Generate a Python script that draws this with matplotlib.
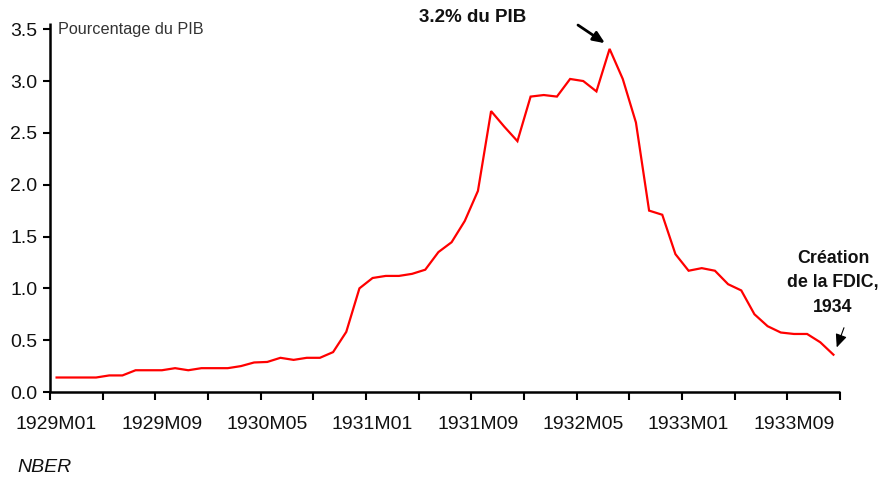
import matplotlib
matplotlib.use("Agg")
import matplotlib.pyplot as plt
import numpy as np
from matplotlib.ticker import FixedLocator

# monthly series, 1929M01 .. 1933M12 (% of GDP)
years = [1929, 1930, 1931, 1932, 1933]
months = [f"{y}M{m:02d}" for y in years for m in range(1, 13)]
deposits = [
    0.14, 0.14, 0.14, 0.14, 0.16, 0.16, 0.21, 0.21, 0.21, 0.23, 0.21, 0.23,
    0.23, 0.23, 0.25, 0.285, 0.29, 0.33, 0.31, 0.33, 0.33, 0.385, 0.58, 1.00,
    1.10, 1.12, 1.12, 1.14, 1.18, 1.35, 1.445, 1.65, 1.94, 2.71, 2.56, 2.42,
    2.85, 2.865, 2.85, 3.02, 3.00, 2.90, 3.31, 3.02, 2.60, 1.75, 1.71, 1.33,
    1.17, 1.195, 1.17, 1.04, 0.98, 0.75, 0.635, 0.574, 0.56, 0.56, 0.48, 0.36,
]
label_every = 8
yticks = [0.0, 0.5, 1.0, 1.5, 2.0, 2.5, 3.0, 3.5]

plt.rcParams["font.family"] = ["Liberation Sans", "DejaVu Sans"]

fig = plt.figure(figsize=(8.82, 4.79), dpi=100)
ax = fig.add_axes([0.0567, 0.1816, 0.8957, 0.7704])

x = np.arange(len(months))
ax.plot(x, deposits, color="#ff0000", lw=1.6, solid_joinstyle="miter")

ax.set_xlim(-0.5, len(months) - 0.5)
ax.set_ylim(0, 3.56)

ax.set_xticks(x[::label_every])
ax.set_xticklabels(months[::label_every], fontsize=14, color="#111111")
ax.xaxis.set_minor_locator(FixedLocator(np.arange(-0.5, len(months), 4)))
ax.tick_params(axis="x", which="major", length=0, pad=17)
ax.tick_params(axis="x", which="minor", length=6, width=1.5, direction="out")

ax.set_yticks(yticks)
ax.set_yticklabels([f"{v:.1f}" for v in yticks], fontsize=14, color="#111111")
ax.tick_params(axis="y", length=5, width=1.5, direction="out", pad=4)

for side in ["top", "right"]:
    ax.spines[side].set_visible(False)
for side in ["left", "bottom"]:
    ax.spines[side].set_linewidth(1.8)
    ax.spines[side].set_capstyle("butt")

ax.text(0.1, 3.5, "Pourcentage du PIB", fontsize=11.7, color="#333333",
        va="center", ha="left")

# peak annotation
peak = int(np.argmax(deposits))
ax.annotate("", xy=(peak - 0.35, 3.365), xytext=(peak - 2.4, 3.54),
            arrowprops=dict(arrowstyle="-|>,head_length=0.7,head_width=0.3",
                            color="black", lw=2, shrinkA=0, shrinkB=0))
fig.text(473 / 882, 1 - 17 / 479, "3.2% du PIB", fontweight="bold",
         fontsize=13.5, ha="center", va="center", color="#111111")

# FDIC annotation
last = len(deposits) - 1
ax.annotate("", xy=(last + 0.25, deposits[-1] + 0.07), xytext=(last + 0.8, 0.62),
            arrowprops=dict(arrowstyle="-|>,head_length=0.8,head_width=0.35",
                            color="black", lw=0.8, shrinkA=0, shrinkB=0))
fig.text(833 / 882, 1 - 283 / 479, "Création\nde la FDIC,\n1934",
         fontweight="bold", fontsize=12.8, ha="center", va="center", linespacing=1.6,
         color="#111111")

fig.text(17 / 882, 1 - 467 / 479, "NBER", fontsize=14, style="italic",
         ha="left", va="center", color="#111111")

fig.savefig("out.png", dpi=100)
